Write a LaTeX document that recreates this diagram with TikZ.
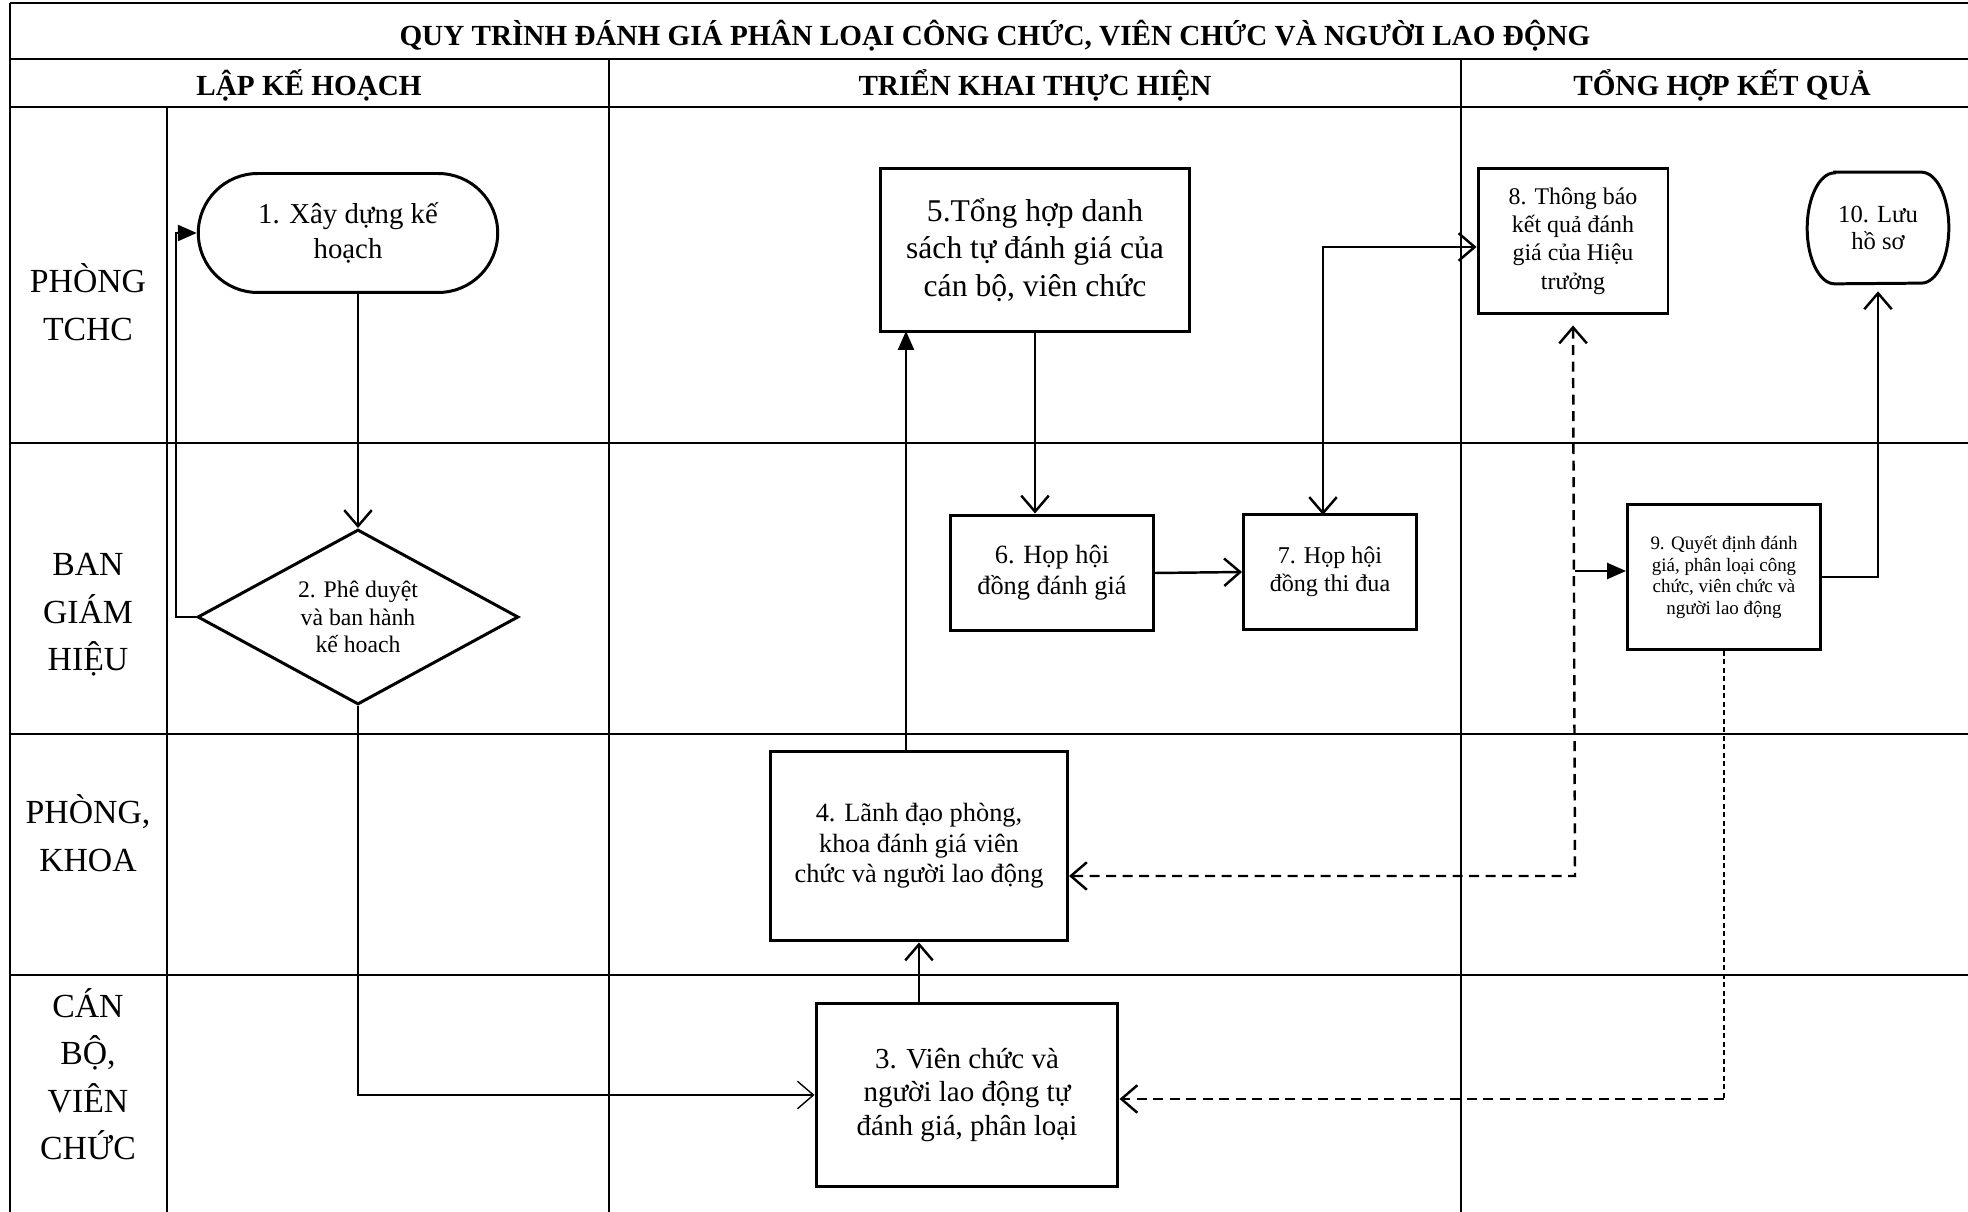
\documentclass[tikz,border=0pt]{standalone}
\usepackage{fontspec}
\setmainfont{Liberation Serif}
\usetikzlibrary{arrows.meta,shapes.geometric,shapes.misc}

\begin{document}
\begin{tikzpicture}[x=0.02cm,y=-0.02cm,
    borderline/.style={line width=1.6pt},
    laneline/.style={line width=1.1pt},
    headtext/.style={font=\fontsize{16.6}{20}\selectfont\bfseries},
    lanetext/.style={font=\fontsize{19.2}{27}\selectfont, align=center},
    box/.style={draw, line width=1.7pt, align=center, inner sep=1pt},
    flow/.style={line width=1.4pt},
    open/.style={-{Straight Barb[length=0.32cm,width=0.55cm]}},
    open both/.style={{Straight Barb[length=0.32cm,width=0.55cm]}-{Straight Barb[length=0.32cm,width=0.55cm]}},
    solid tip/.style={-{Triangle[length=0.38cm,width=0.32cm]}},
    dash line/.style={line width=1.4pt, dash pattern=on 0.2cm off 0.13cm}]
  \useasboundingbox (0,0) rectangle (1968,1212);

  % swimlane frame
  \draw[borderline] (10,3) -- (1968,3);
  \draw[borderline] (10,59) -- (1968,59);
  \draw[borderline] (10,107) -- (1968,107);
  \draw[borderline] (10,3) -- (10,1212);
  \draw[borderline] (167,107) -- (167,1212);
  \draw[laneline] (609,59) -- (609,1212);
  \draw[laneline] (1461,59) -- (1461,1212);
  \draw[laneline] (10,443) -- (1968,443);
  \draw[laneline] (10,734) -- (1968,734);
  \draw[laneline] (10,975) -- (1968,975);

  \node[headtext] (title) at (995,36) {QUY TRÌNH ĐÁNH GIÁ PHÂN LOẠI CÔNG CHỨC, VIÊN CHỨC VÀ NGƯỜI LAO ĐỘNG};
  \node[headtext] (h1) at (309,85) {LẬP KẾ HOẠCH};
  \node[headtext] (h2) at (1035,85) {TRIỂN KHAI THỰC HIỆN};
  \node[headtext] (h3) at (1722,85) {TỔNG HỢP KẾT QUẢ};

  \node[lanetext] (l1) at (88,302) {PHÒNG\\TCHC};
  \node[lanetext] (l2) at (88,615) {BAN\\GIÁM\\HIỆU};
  \node[lanetext] (l3) at (88,833) {PHÒNG,\\KHOA};
  \node[lanetext] (l4) at (88,1074) {CÁN\\BỘ,\\VIÊN\\CHỨC};

  % steps
  \node[box, rounded rectangle, minimum width=6.06cm, minimum height=2.38cm,
    font=\fontsize{16.4}{19.5}\selectfont] (t1) at (348,233) {1. Xây dựng kế\\hoạch};
  \node[box, diamond, aspect=1.83, minimum width=6.42cm, minimum height=3.5cm, inner sep=0pt,
    font=\fontsize{13.5}{15.6}\selectfont] (d2) at (358,617) {2. Phê duyệt\\và ban hành\\kế hoach};
  \node[box, minimum width=6.04cm, minimum height=3.68cm,
    font=\fontsize{16.5}{19.2}\selectfont] (b3) at (967,1095) {3. Viên chức và\\người lao động tự\\đánh giá, phân loại};
  \node[box, minimum width=5.94cm, minimum height=3.8cm,
    font=\fontsize{15}{17.4}\selectfont] (b4) at (919,846) {4. Lãnh đạo phòng,\\khoa đánh giá viên\\chức và người lao động};
  \node[box, minimum width=6.2cm, minimum height=3.26cm,
    font=\fontsize{18}{21.4}\selectfont] (b5) at (1035,250) {5.Tổng hợp danh\\sách tự đánh giá của\\cán bộ, viên chức};
  \node[box, minimum width=4.06cm, minimum height=2.32cm,
    font=\fontsize{15}{17.8}\selectfont] (b6) at (1052,573) {6. Họp hội\\đồng đánh giá};
  \node[box, minimum width=3.46cm, minimum height=2.3cm,
    font=\fontsize{13.7}{15.7}\selectfont] (b7) at (1330,572) {7. Họp hội\\đồng thi đua};
  \node[box, minimum width=3.8cm, minimum height=2.92cm,
    font=\fontsize{13.6}{16.2}\selectfont] (b8) at (1573,241) {8. Thông báo\\kết quả đánh\\giá của Hiệu\\trưởng};
  \node[box, minimum width=3.86cm, minimum height=2.9cm,
    font=\fontsize{10.8}{12.3}\selectfont] (b9) at (1724,577) {9. Quyết định đánh\\giá, phân loại công\\chức, viên chức và\\người lao động};
  \node[align=center, minimum width=2.82cm, minimum height=2.22cm,
    font=\fontsize{14}{15.8}\selectfont] (t10) at (1878,228) {10. Lưu\\hồ sơ};
  \draw[line width=1.7pt] ([xshift=0.55cm]t10.north west) -- ([xshift=-0.55cm]t10.north east)
    arc[start angle=90, end angle=-90, x radius=0.55cm, y radius=1.11cm]
    -- ([xshift=0.55cm]t10.south west)
    arc[start angle=270, end angle=90, x radius=0.55cm, y radius=1.11cm] -- cycle;

  % connectors
  \begin{scope}[flow]
    \draw[open] (d2.north |- t1.south) -- (d2.north);
    \draw[solid tip] (d2.west) -- (176,617) -- (176,233) -- (t1.west);
    \draw[open, line width=0.8pt] (d2.south) |- (b3.west);
    \draw[open] (b4.south |- b3.north) -- (b4.south);
    \draw[solid tip] (906,751) -- (906,331);
    \draw[open] (b5.south) -- (b5.south |- b6.north);
    \draw[open] (b6.east) -- (b7.west);
    \draw[open both] (1323,515) -- (1323,247) -- (b8.west |- 0,247);
    \draw[open] (b9.east) -| ([yshift=-0.15cm]t10.south);
    \draw[dash line, open both]
      ([yshift=-0.2cm]b8.south) -- (1575,876) -- ([yshift=-0.6cm]b4.east);
    \draw[solid tip] (1575,571) -- (b9.west |- 0,571);
    \draw[line width=0.6pt, dash pattern=on 0.1cm off 0.07cm] (b9.south) -- (1724,1099);
    \draw[dash line, open] (1724,1099) -- (b3.east |- 0,1099);
  \end{scope}
\end{tikzpicture}
\end{document}
